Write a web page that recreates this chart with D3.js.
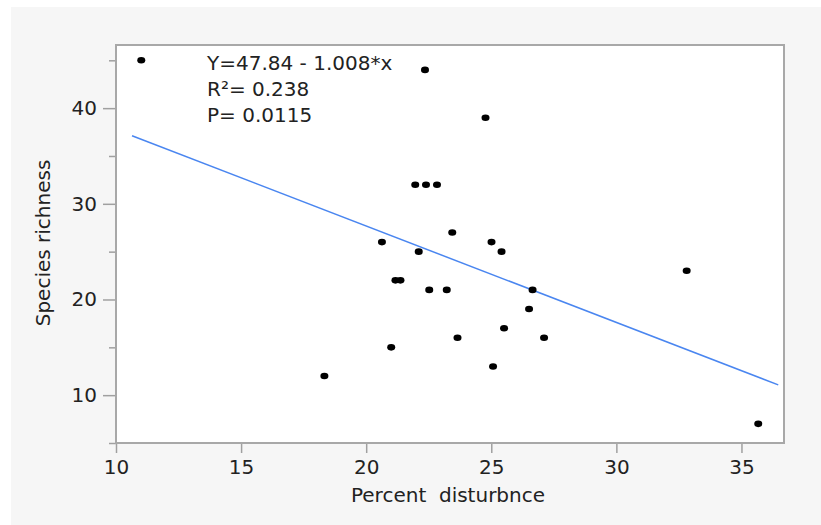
<!DOCTYPE html>
<html>
<head>
<meta charset="utf-8">
<script src="https://cdn.jsdelivr.net/npm/d3@7"></script>
<style>
  body { margin: 0; background: #fff; }
  text { font-family: "DejaVu Sans", sans-serif; fill: #222; }
</style>
</head>
<body>
<svg id="chart" width="821" height="525"></svg>
<script>
// values
const disturbance = [11.01, 22.35, 24.77, 21.96, 22.39, 22.83, 23.44, 20.63, 25.01, 22.1, 25.41, 21.17, 21.37,
  22.52, 23.22, 26.65, 26.51, 25.51, 23.65, 27.11, 21.0, 18.33, 25.07, 32.81, 35.67];
const richness = [45, 44, 39, 32, 32, 32, 27, 26, 26, 25, 25, 22, 22,
  21, 21, 21, 19, 17, 16, 16, 15, 12, 13, 23, 7];
const xTicks = [10, 15, 20, 25, 30, 35];
const yTicks = [10, 20, 30, 40];
const yMinorTicks = [5, 15, 25, 35, 45];
const fitIntercept = 47.84;
const fitSlope = -1.008;
const fitRange = [10.64, 36.47];
const statLines = ["Y=47.84 - 1.008*x", "R\u00b2= 0.238", "P= 0.0115"];
const xTitle = "Percent  disturbnce";
const yTitle = "Species richness";

const svg = d3.select("#chart");
const margin = { top: 45, right: 37, bottom: 82, left: 116 };
const width = 821 - margin.left - margin.right;
const height = 525 - margin.top - margin.bottom;

// grey panel behind the report
svg.append("rect")
  .attr("x", 11).attr("y", 7)
  .attr("width", 821 - 11).attr("height", 525 - 7)
  .attr("fill", "#f6f6f6");

const g = svg.append("g")
  .attr("transform", `translate(${margin.left},${margin.top})`);

const x = d3.scaleLinear().domain([10, 36.7]).range([0, width]);
const y = d3.scaleLinear().domain([5, 46.6]).range([height, 0]);

g.append("rect")
  .attr("width", width).attr("height", height)
  .attr("fill", "#fff");

// axes
const xAxis = g.append("g")
  .attr("transform", `translate(0,${height})`)
  .call(d3.axisBottom(x).tickValues(xTicks).tickSize(10).tickPadding(7));

const yAxis = g.append("g")
  .call(d3.axisLeft(y).tickValues(yTicks).tickSize(13).tickPadding(6));

const yMinor = g.append("g")
  .call(d3.axisLeft(y).tickValues(yMinorTicks).tickSize(7).tickFormat(""));

[xAxis, yAxis, yMinor].forEach(a => {
  a.select(".domain").remove();
  a.selectAll(".tick line").attr("stroke", "#a0a0a0").attr("stroke-width", 1.5);
  a.selectAll(".tick text")
    .attr("fill", "#222")
    .style("font-size", "20px");
});

// frame
g.append("rect")
  .attr("width", width).attr("height", height)
  .attr("fill", "none")
  .attr("stroke", "#a8a8a8")
  .attr("stroke-width", 2);

// fit line
const line = d3.line()
  .x(d => x(d))
  .y(d => y(fitIntercept + fitSlope * d));

g.append("path")
  .datum(fitRange)
  .attr("d", line)
  .attr("fill", "none")
  .attr("stroke", "#4a86f0")
  .attr("stroke-width", 1.5);

// points
g.selectAll(".dot")
  .data(disturbance.map((d, i) => [d, richness[i]]))
  .enter()
  .append("ellipse")
  .attr("class", "dot")
  .attr("cx", d => x(d[0]))
  .attr("cy", d => y(d[1]))
  .attr("rx", 4)
  .attr("ry", 3.3)
  .attr("fill", "#000");

// fit summary text
g.selectAll(".stat")
  .data(statLines)
  .enter()
  .append("text")
  .attr("class", "stat")
  .attr("x", 91)
  .attr("y", (d, i) => 25 + i * 25.8)
  .style("font-size", "20px")
  .text(d => d);

// axis titles
svg.append("text")
  .attr("x", margin.left + width / 2 - 2)
  .attr("y", 502)
  .attr("text-anchor", "middle")
  .style("font-size", "20px")
  .style("white-space", "pre")
  .text(xTitle);

svg.append("text")
  .attr("transform", `translate(50,${margin.top + height / 2 - 1}) rotate(-90)`)
  .attr("text-anchor", "middle")
  .style("font-size", "20px")
  .text(yTitle);
</script>
</body>
</html>
